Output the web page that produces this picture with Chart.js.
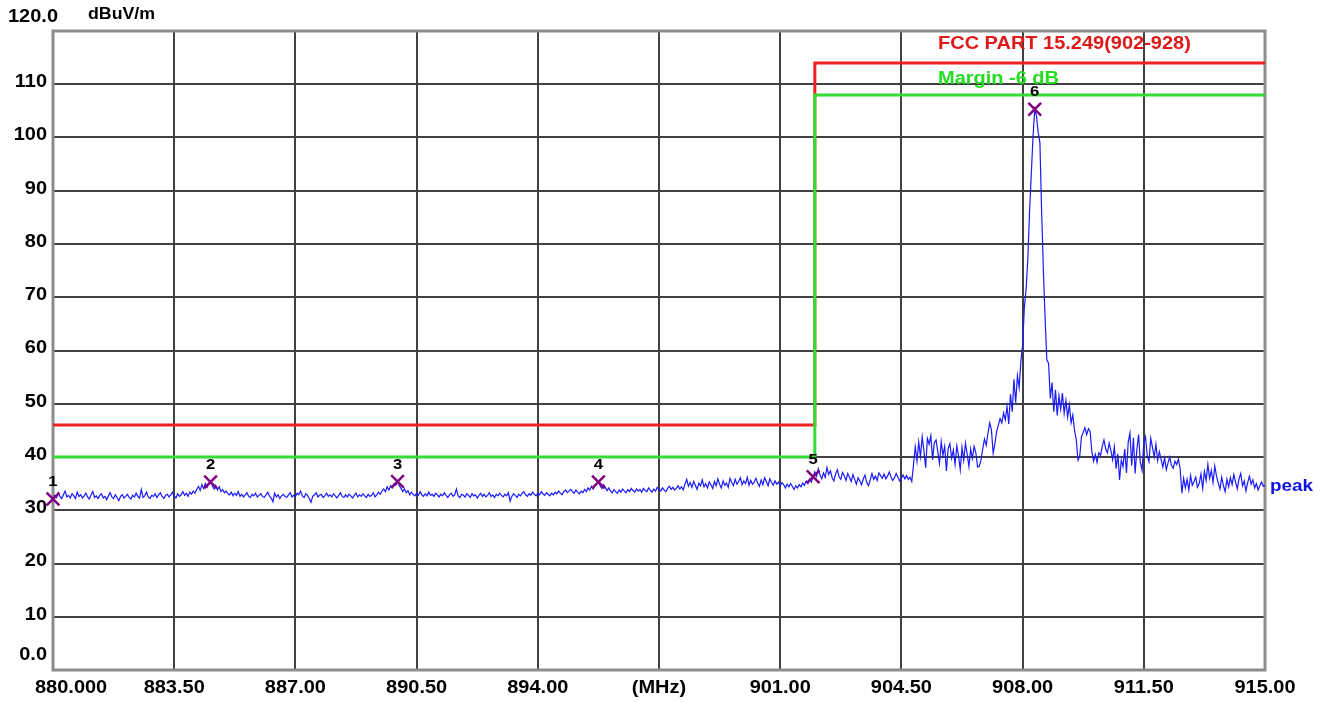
<!DOCTYPE html>
<html>
<head>
<meta charset="utf-8">
<script src="https://cdn.jsdelivr.net/npm/chart.js@4/dist/chart.umd.min.js"></script>
<style>
html,body{margin:0;padding:0;background:#fff;}
#wrap{width:1328px;height:702px;}
</style>
</head>
<body>
<div id="wrap"><canvas id="c" width="1328" height="702"></canvas></div>
<script>
// ---- data ----
const sweepStart = 880;      // MHz
const sweepStep = 0.05;      // MHz per trace point
const peakTrace = [
32.1,32.8,32.4,33.3,32.6,32.2,32.9,33.6,32.5,32.8,32.3,33.1,32.7,32.2,33.4,32.6,32.9,32.3,32.7,33.2,
32.5,32.1,32.9,33.5,32.4,32.7,32.2,32.8,33.1,32.3,32.6,32.0,32.7,33.3,32.5,32.2,32.9,32.4,31.8,32.6,
32.9,32.3,32.6,33.0,32.4,32.1,32.8,32.5,33.2,32.6,32.3,33.9,32.4,32.7,33.4,32.5,32.2,32.8,32.6,33.1,
32.4,32.9,33.3,32.6,32.2,32.8,33.0,32.5,32.9,33.4,32.7,32.3,33.1,32.6,32.9,33.5,32.8,33.2,32.6,33.4,
33.0,33.6,33.2,33.9,34.5,33.7,34.8,34.1,35.0,34.3,35.1,35.3,34.6,34.0,34.7,33.8,34.4,33.5,33.9,33.3,
33.6,33.1,32.9,33.4,32.7,33.2,32.8,33.5,32.6,33.0,32.5,32.9,33.3,32.6,32.4,33.0,32.7,33.2,32.5,32.8,
33.1,32.6,32.4,32.9,33.4,32.7,32.3,31.6,33.2,32.5,32.9,32.2,32.7,33.0,32.6,32.4,32.9,33.3,32.5,32.8,
32.6,33.2,32.9,33.6,32.7,32.4,33.1,32.8,32.2,31.5,32.6,32.9,33.3,32.5,32.8,33.0,32.4,32.7,33.2,32.6,
32.9,32.5,33.1,32.7,32.3,32.8,33.3,32.6,32.4,32.9,32.5,33.0,32.7,32.3,32.8,33.2,32.5,32.9,32.6,33.1,
32.7,32.4,33.0,32.6,32.8,33.3,32.5,32.9,33.4,33.0,33.6,34.0,33.5,34.4,33.8,34.6,34.2,35.0,34.7,35.4,
34.6,34.1,33.5,34.0,33.3,33.7,32.9,33.4,33.0,32.7,33.2,32.8,33.5,32.9,32.6,33.1,32.7,33.4,32.8,33.0,
32.6,33.2,32.9,32.5,33.0,32.7,33.3,32.8,32.4,32.9,33.2,32.6,32.9,34.0,32.7,32.4,33.0,32.8,32.5,33.1,
32.8,32.4,33.1,32.7,32.9,32.3,32.8,33.2,32.6,33.0,32.5,32.8,33.3,32.6,32.9,32.4,33.0,32.7,33.2,32.8,
32.5,33.0,32.7,33.3,31.7,32.6,33.1,32.8,32.4,33.0,32.7,33.2,33.5,32.9,32.6,33.1,32.8,33.4,33.0,32.7,
33.2,32.9,33.5,33.1,32.8,33.3,33.0,32.7,33.2,32.9,33.4,33.1,33.6,33.2,32.9,33.5,33.8,33.3,33.6,33.9,
33.5,33.2,33.8,33.4,33.1,33.6,33.3,33.9,33.5,34.2,33.8,34.5,34.0,34.7,35.0,35.3,34.6,34.1,34.8,34.3,
33.7,34.2,33.6,33.3,33.9,33.5,33.2,33.8,33.4,34.0,33.6,33.3,33.9,33.5,34.1,33.7,33.4,34.0,33.6,33.9,
33.4,34.1,33.7,33.5,34.2,33.8,33.4,34.0,33.6,34.3,33.9,33.6,34.2,33.8,33.5,34.1,34.5,33.9,34.3,33.8,
34.1,34.6,34.0,34.4,33.8,34.9,35.8,34.5,35.2,34.3,35.4,34.7,33.9,35.1,34.6,35.7,34.4,35.0,34.2,35.3,
34.8,34.1,35.4,34.6,35.9,34.9,34.2,35.5,34.7,35.1,34.3,36.0,35.2,34.6,35.8,34.9,35.4,36.1,34.8,35.5,
35.0,36.2,34.7,35.6,34.9,35.3,36.0,35.1,34.5,35.7,34.8,36.1,35.4,34.6,35.9,35.2,34.7,35.5,34.9,35.3,
34.6,35.2,34.8,34.2,34.9,34.4,35.0,34.5,33.9,34.6,34.2,34.8,34.4,35.1,34.7,35.5,35.0,35.8,35.3,36.3,
37.2,36.4,37.8,36.6,35.9,37.0,36.2,38.0,36.7,37.4,36.1,35.5,36.8,37.6,36.3,35.8,37.1,36.5,35.6,36.9,
36.2,35.4,36.7,35.8,34.9,36.1,35.5,34.8,35.9,36.6,35.2,34.6,35.7,36.9,35.8,36.4,35.6,37.0,36.5,36.0,
36.8,35.9,36.4,37.2,36.3,35.6,36.1,36.9,36.2,35.5,36.0,36.6,35.9,36.5,35.8,36.2,35.4,38.6,41.9,39.2,
42.8,40.1,43.8,41.2,38.0,43.5,42.4,44.0,39.5,42.7,43.2,41.0,38.8,42.9,40.3,42.0,37.4,41.6,42.5,39.8,
41.3,38.6,42.1,40.2,37.6,41.8,39.4,42.6,40.5,38.2,41.5,39.7,42.0,40.8,38.1,38.3,39.5,41.6,43.4,42.2,
44.5,46.4,45.1,40.7,42.5,44.8,46.0,47.2,46.4,48.3,47.0,49.5,46.2,51.8,48.5,54.6,50.2,55.3,53.0,58.0,
61.0,68.0,71.5,77.0,86.0,93.0,100.0,105.3,104.0,101.0,99.0,86.0,75.0,66.0,58.2,57.6,51.0,54.0,48.5,52.6,
47.8,51.5,49.0,52.0,48.2,50.6,47.5,49.8,46.4,47.9,45.0,43.2,39.4,40.1,43.8,44.6,45.5,44.2,45.3,44.8,
41.0,39.2,40.5,39.0,40.8,40.3,42.0,43.2,41.5,40.8,42.6,41.2,39.5,41.9,37.8,40.6,35.7,39.4,38.2,41.5,
37.0,42.8,44.5,38.4,43.6,36.9,41.5,44.2,39.0,37.5,42.6,43.8,40.2,39.1,43.5,41.8,40.0,42.4,39.3,41.0,
39.5,38.1,39.8,37.6,38.9,40.0,38.4,37.9,39.2,38.6,39.6,37.8,33.2,36.0,34.2,35.8,33.8,36.5,34.7,35.4,
36.2,34.3,35.0,36.8,34.1,37.3,35.6,38.6,36.0,37.5,35.2,38.3,36.4,35.1,34.0,36.2,34.6,33.5,35.8,34.4,
36.1,34.8,36.7,35.3,34.0,35.9,36.9,34.6,35.5,33.6,35.2,36.4,34.9,35.7,34.2,35.0,33.8,34.6,35.3,34.5,
34.7
];

const limitFreqs  = [880, 902, 902, 915];
const limitLevels = [46, 46, 114, 114];   // FCC PART 15.249(902-928)
const marginLevels = [40, 40, 108, 108];  // Margin -6 dB

const markerNames  = ['1', '2', '3', '4', '5', '6'];
const markerFreqs  = [880.00, 884.55, 889.95, 895.75, 901.95, 908.35];
const markerLevels = [32.1, 35.3, 35.4, 35.3, 36.3, 105.3];

const xTickValues = [880, 883.5, 887, 890.5, 894, 897.5, 901, 904.5, 908, 911.5, 915];
const xTickLabels = ['880.000', '883.50', '887.00', '890.50', '894.00', '(MHz)', '901.00', '904.50', '908.00', '911.50', '915.00'];
const yTickValues = [0, 10, 20, 30, 40, 50, 60, 70, 80, 90, 100, 110, 120];
const yTickLabels = ['0.0', '10', '20', '30', '40', '50', '60', '70', '80', '90', '100', '110', '120.0'];

const unitLabel = 'dBuV/m';
const limitName = 'FCC PART 15.249(902-928)';
const marginName = 'Margin -6 dB';
const traceName = 'peak';

// ---- build ----
const tracePts = peakTrace.map((v, i) => ({x: +(sweepStart + i * sweepStep).toFixed(2), y: v}));
const limitPts = limitFreqs.map((f, i) => ({x: f, y: limitLevels[i]}));
const marginPts = limitFreqs.map((f, i) => ({x: f, y: marginLevels[i]}));
const markerPts = markerFreqs.map((f, i) => ({x: f, y: markerLevels[i]}));

const FONT = 'Arial, "Liberation Sans", sans-serif';
const STRETCH = 1.11;

function txt(ctx, s, x, y, align, px) {
  ctx.save();
  ctx.font = 'bold ' + px + 'px ' + FONT;
  ctx.textBaseline = 'middle';
  const w = ctx.measureText(s).width * STRETCH;
  let x0 = x;
  if (align === 'center') x0 = x - w / 2;
  else if (align === 'right') x0 = x - w;
  ctx.translate(x0, y);
  ctx.scale(STRETCH, 1);
  ctx.textAlign = 'left';
  ctx.fillText(s, 0, 0);
  ctx.restore();
}

const textPlugin = {
  id: 'texts',
  beforeDatasetsDraw(chart) {
    const {ctx, chartArea: a} = chart;
    ctx.save();
    ctx.strokeStyle = '#8c8c8c';
    ctx.lineWidth = 3;
    ctx.strokeRect(a.left, a.top, a.right - a.left, a.bottom - a.top);
    ctx.restore();
  },
  afterDraw(chart) {
    const {ctx, chartArea: a, scales} = chart;
    const xs = scales.x, ys = scales.y;
    ctx.save();
    ctx.fillStyle = '#000';
    // y labels
    yTickValues.forEach((v, i) => {
      const py = ys.getPixelForValue(v);
      if (v === 120) txt(ctx, yTickLabels[i], 8, py - 14, 'left', 18);
      else if (v === 0) txt(ctx, yTickLabels[i], a.left - 6, py - 15, 'right', 18);
      else txt(ctx, yTickLabels[i], a.left - 6, py - 2, 'right', 18);
    });
    // unit
    txt(ctx, unitLabel, 88, 15, 'left', 16);
    // x labels
    xTickValues.forEach((v, i) => {
      const px = xs.getPixelForValue(v);
      if (i === 0) txt(ctx, xTickLabels[i], px - 18, a.bottom + 18, 'left', 18);
      else txt(ctx, xTickLabels[i], px, a.bottom + 18, 'center', 18);
    });
    // marker numbers
    markerPts.forEach((p, i) => {
      txt(ctx, markerNames[i], xs.getPixelForValue(p.x), ys.getPixelForValue(p.y) - 17, 'center', 15);
    });
    // legend texts
    ctx.fillStyle = '#e01818';
    txt(ctx, limitName, 938, 44, 'left', 18);
    ctx.fillStyle = '#22dd22';
    txt(ctx, marginName, 938, 79, 'left', 18);
    ctx.fillStyle = '#1010e0';
    const lastPy = ys.getPixelForValue(peakTrace[peakTrace.length - 1]);
    txt(ctx, traceName, a.right + 5, lastPy + 1, 'left', 17);
    ctx.restore();
  }
};

new Chart(document.getElementById('c'), {
  type: 'scatter',
  data: {
    datasets: [
      {
        label: 'markers', data: markerPts, showLine: false, clip: false,
        pointStyle: 'crossRot', pointRadius: 9, borderColor: '#800080', borderWidth: 2.5,
        order: 0
      },
      {
        label: traceName, data: tracePts, showLine: true, borderColor: '#1a1aff',
        borderWidth: 1.2, pointRadius: 0, order: 1
      },
      {
        label: marginName, data: marginPts, showLine: true, borderColor: '#33dd33',
        borderWidth: 3, pointRadius: 0, order: 2
      },
      {
        label: limitName, data: limitPts, showLine: true, borderColor: '#ee2222',
        borderWidth: 3, pointRadius: 0, order: 3
      }
    ]
  },
  options: {
    responsive: false,
    animation: false,
    devicePixelRatio: 1,
    layout: {padding: {top: 31, right: 63, left: 0, bottom: 0}},
    plugins: {legend: {display: false}, tooltip: {enabled: false}},
    scales: {
      x: {
        type: 'linear', min: 880, max: 915,
        afterFit(s) { s.height = 32; },
        afterBuildTicks(s) { s.ticks = xTickValues.map(v => ({value: v})); },
        ticks: {display: false},
        grid: {color: '#404040', lineWidth: 2, drawTicks: false},
        border: {display: false}
      },
      y: {
        type: 'linear', min: 0, max: 120,
        afterFit(s) { s.width = 53; },
        afterBuildTicks(s) { s.ticks = yTickValues.map(v => ({value: v})); },
        ticks: {display: false},
        grid: {color: '#404040', lineWidth: 2, drawTicks: false},
        border: {display: false}
      }
    }
  },
  plugins: [textPlugin]
});
</script>
</body>
</html>
